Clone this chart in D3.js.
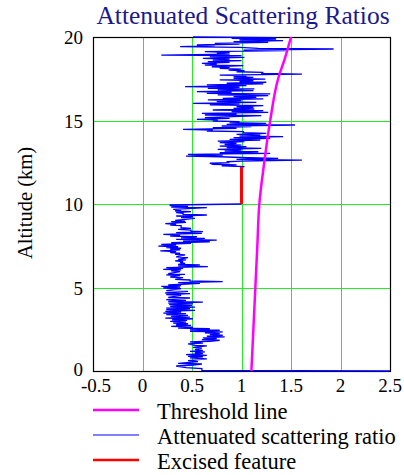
<!DOCTYPE html>
<html>
<head>
<meta charset="utf-8">
<script src="https://cdn.jsdelivr.net/npm/d3@7"></script>
<style>
  body { margin: 0; background: #fff; }
  svg { display: block; font-family: 'Liberation Serif', 'Times New Roman', serif; }
</style>
</head>
<body>
<svg id="chart" width="404" height="475"></svg>
<script>
'use strict';

//Tick values of both axes
const xTicks = [-0.5, 0, 0.5, 1, 1.5, 2, 2.5];
const yTicks = [0, 5, 10, 15, 20];

//Threshold line as [altitude (km), ratio]
const thresholdLine = [
  [0, 1.10], [2.5, 1.12], [5, 1.14], [7.5, 1.16], [10, 1.18],
  [12.5, 1.23], [15, 1.29], [17.5, 1.37], [18.75, 1.44], [20, 1.50]
];

//Excised feature as [altitude (km), ratio]
const excisedFeature = [[10.0, 1.0], [12.2, 1.0]];

//Attenuated scattering ratio below the feature, [altitude (km), ratio]
const profileLower = [
  [0.00, 2.50], [0.03, 0.60], [0.14, 0.60], [0.20, 0.44], [0.30, 0.34], [0.36, 0.51],
  [0.42, 0.60], [0.46, 0.36], [0.56, 0.56], [0.62, 0.46], [0.72, 0.65], [0.78, 0.48],
  [0.84, 0.61], [0.88, 0.46], [0.94, 0.65], [0.98, 0.44], [1.04, 0.61], [1.08, 0.53],
  [1.14, 0.63], [1.18, 0.48], [1.24, 0.61], [1.28, 0.53], [1.37, 0.60], [1.41, 0.51],
  [1.50, 0.65], [1.54, 0.53], [1.63, 0.46], [1.67, 0.61], [1.74, 0.48], [1.78, 0.68],
  [1.84, 0.78], [1.88, 0.60], [1.94, 0.75], [1.98, 0.61], [2.04, 0.83], [2.08, 0.65],
  [2.14, 0.81], [2.18, 0.68], [2.24, 0.78], [2.28, 0.63], [2.34, 0.81], [2.38, 0.48],
  [2.44, 0.78], [2.48, 0.48], [2.53, 0.68], [2.57, 0.36], [2.63, 0.51], [2.67, 0.29],
  [2.73, 0.49], [2.77, 0.34], [2.83, 0.46], [2.87, 0.31], [2.93, 0.44], [2.97, 0.28],
  [3.03, 0.45], [3.07, 0.30], [3.13, 0.51], [3.17, 0.23], [3.23, 0.48], [3.27, 0.29],
  [3.33, 0.46], [3.37, 0.24], [3.43, 0.44], [3.47, 0.21], [3.53, 0.39], [3.57, 0.23],
  [3.63, 0.53], [3.67, 0.24], [3.73, 0.48], [3.77, 0.24], [3.83, 0.53], [3.87, 0.28],
  [3.93, 0.50], [3.97, 0.27], [4.03, 0.51], [4.07, 0.26], [4.13, 0.61], [4.17, 0.26],
  [4.23, 0.44], [4.27, 0.24], [4.37, 0.48], [4.41, 0.26], [4.53, 0.39], [4.57, 0.24],
  [4.63, 0.48], [4.67, 0.23], [4.77, 0.46], [4.81, 0.24], [4.93, 0.39], [4.97, 0.21],
  [5.03, 0.38], [5.07, 0.19], [5.11, 0.39], [5.15, 0.26], [5.25, 0.58], [5.29, 0.36],
  [5.35, 0.81], [5.39, 0.48], [5.45, 0.48], [5.49, 0.33], [5.59, 0.41], [5.63, 0.28],
  [5.71, 0.38], [5.75, 0.24], [5.79, 0.43], [5.83, 0.26], [5.95, 0.38], [5.99, 0.29],
  [6.05, 0.39], [6.09, 0.21], [6.15, 0.41], [6.19, 0.24], [6.25, 0.66], [6.29, 0.36],
  [6.35, 0.58], [6.39, 0.36], [6.45, 0.43], [6.49, 0.38], [6.55, 0.41], [6.59, 0.33],
  [6.65, 0.44], [6.69, 0.36], [6.79, 0.46], [6.83, 0.34], [6.95, 0.43], [6.99, 0.33],
  [7.05, 0.38], [7.09, 0.28], [7.15, 0.34], [7.19, 0.18], [7.25, 0.38], [7.29, 0.28],
  [7.35, 0.39], [7.39, 0.24], [7.44, 0.36], [7.48, 0.16], [7.54, 0.34], [7.58, 0.19],
  [7.64, 0.49], [7.68, 0.29], [7.74, 0.68], [7.78, 0.41], [7.84, 0.75], [7.88, 0.34],
  [7.94, 0.63], [7.98, 0.39], [8.04, 0.55], [8.08, 0.28], [8.14, 0.38], [8.18, 0.21],
  [8.24, 0.60], [8.28, 0.34], [8.34, 0.61], [8.38, 0.49], [8.44, 0.49], [8.48, 0.36],
  [8.54, 0.49], [8.58, 0.39], [8.70, 0.39], [8.74, 0.28], [8.78, 0.34], [8.82, 0.23],
  [8.90, 0.44], [8.94, 0.29], [8.98, 0.43], [9.02, 0.33], [9.14, 0.53], [9.18, 0.39],
  [9.24, 0.51], [9.28, 0.34], [9.34, 0.65], [9.38, 0.41], [9.44, 0.41], [9.48, 0.34],
  [9.54, 0.49], [9.58, 0.33], [9.64, 0.39], [9.68, 0.31], [9.78, 0.65], [9.82, 0.29],
  [9.86, 0.46], [9.90, 0.28], [9.94, 0.28], [10.0, 1.00]
];

//Attenuated scattering ratio above the feature, [altitude (km), ratio]
const profileUpper = [
  [12.2, 1.00], [12.24, 1.03], [12.28, 0.80], [12.34, 0.95], [12.38, 0.71], [12.44, 0.68],
  [12.48, 0.88], [12.53, 0.85], [12.57, 1.00], [12.63, 1.61], [12.67, 0.95], [12.73, 1.37],
  [12.77, 1.07], [12.83, 0.78], [12.87, 0.44], [12.93, 0.81], [12.97, 0.46], [13.03, 1.29],
  [13.07, 0.78], [13.13, 1.17], [13.17, 0.83], [13.23, 1.00], [13.27, 0.76], [13.33, 1.20],
  [13.37, 0.85], [13.43, 1.05], [13.47, 0.78], [13.53, 1.00], [13.57, 0.83], [13.63, 0.95],
  [13.67, 0.78], [13.73, 1.03], [13.77, 0.76], [13.83, 1.19], [13.87, 0.88], [13.93, 1.29],
  [13.97, 0.92], [14.03, 1.42], [14.07, 0.98], [14.13, 1.19], [14.17, 0.95], [14.23, 1.25],
  [14.27, 1.02], [14.33, 1.02], [14.37, 0.65], [14.43, 0.71], [14.47, 0.41], [14.53, 0.95],
  [14.57, 0.71], [14.63, 1.10], [14.67, 0.80], [14.73, 1.54], [14.77, 0.85], [14.83, 1.25],
  [14.87, 0.88], [14.93, 0.98], [14.97, 0.71], [15.03, 0.76], [15.07, 0.55], [15.13, 0.88],
  [15.17, 0.63], [15.29, 1.20], [15.33, 0.63], [15.39, 0.95], [15.43, 0.60], [15.49, 1.27],
  [15.53, 0.90], [15.59, 1.22], [15.63, 0.71], [15.69, 1.13], [15.73, 0.92], [15.79, 1.12],
  [15.83, 0.95], [15.89, 1.22], [15.93, 0.68], [15.99, 0.98], [16.03, 0.51], [16.09, 1.15],
  [16.13, 0.75], [16.19, 1.00], [16.23, 0.66], [16.29, 1.22], [16.33, 0.81], [16.39, 1.15],
  [16.43, 0.92], [16.49, 1.27], [16.53, 0.76], [16.59, 1.29], [16.63, 0.65], [16.69, 0.90],
  [16.73, 0.55], [16.79, 1.12], [16.83, 0.76], [16.89, 1.13], [16.93, 0.66], [16.99, 0.98],
  [17.03, 0.43], [17.09, 1.05], [17.13, 0.65], [17.19, 1.22], [17.23, 0.85], [17.29, 1.25],
  [17.33, 0.98], [17.39, 1.12], [17.43, 0.78], [17.48, 1.24], [17.52, 0.92], [17.58, 1.12],
  [17.62, 0.92], [17.68, 1.05], [17.72, 0.78], [17.78, 1.61], [17.82, 1.20], [17.88, 1.22],
  [17.92, 0.95], [17.98, 1.03], [18.02, 0.87], [18.08, 1.00], [18.12, 0.78], [18.18, 0.88],
  [18.22, 0.70], [18.28, 1.02], [18.32, 0.63], [18.38, 0.75], [18.42, 0.60], [18.48, 0.88],
  [18.52, 0.66], [18.58, 1.00], [18.62, 0.71], [18.68, 0.88], [18.72, 0.61], [18.78, 1.03],
  [18.82, 0.68], [18.88, 1.00], [18.92, 0.19], [18.98, 0.88], [19.02, 0.75], [19.08, 0.88],
  [19.12, 0.63], [19.18, 1.45], [19.22, 1.02], [19.28, 1.93], [19.32, 1.17], [19.38, 0.98],
  [19.42, 0.38], [19.48, 0.73], [19.52, 0.55], [19.58, 0.98], [19.62, 0.73], [19.68, 1.27],
  [19.72, 0.92], [19.78, 1.42], [19.82, 0.98], [19.88, 1.35], [19.92, 0.90], [19.96, 1.35],
  [20.0, 0.51]
];

//Legend entries
const legendLabels = ['Threshold line', 'Attenuated scattering ratio', 'Excised feature'];
const legendColors = ['#ff00ff', '#0000ff', '#ff0000'];

const svg = d3.select('#chart');

const plot = { left: 93, right: 390, top: 37, bottom: 371 };

const x = d3.scaleLinear().domain([-0.5, 2.5]).range([plot.left, plot.right]);
const y = d3.scaleLinear().domain([0, 20]).range([plot.bottom, plot.top]);

//Title
svg
  .append('text')
  .attr('x', 243)
  .attr('y', 24)
  .attr('text-anchor', 'middle')
  .attr('fill', '#1a1a8c')
  .style('font-size', '25.5px')
  .text('Attenuated Scattering Ratios');

//Green grid lines
const grid = svg.append('g').attr('stroke', '#22ee22').attr('stroke-width', 1);
grid
  .selectAll('.gx')
  .data(xTicks.slice(1, -1))
  .enter()
  .append('line')
  .attr('x1', d => Math.round(x(d)) + 0.5)
  .attr('x2', d => Math.round(x(d)) + 0.5)
  .attr('y1', plot.top)
  .attr('y2', plot.bottom);
grid
  .selectAll('.gy')
  .data(yTicks.slice(1, -1))
  .enter()
  .append('line')
  .attr('x1', plot.left)
  .attr('x2', plot.right)
  .attr('y1', d => Math.round(y(d)) + 0.5)
  .attr('y2', d => Math.round(y(d)) + 0.5);

//Plot frame
svg
  .append('rect')
  .attr('x', plot.left + 0.5)
  .attr('y', plot.top + 0.5)
  .attr('width', plot.right - plot.left)
  .attr('height', plot.bottom - plot.top)
  .attr('fill', 'none')
  .attr('stroke', '#000')
  .attr('stroke-width', 1.2);

//Line generator, data is [altitude, ratio]
const line = d3
  .line()
  .x(d => x(d[1]))
  .y(d => y(d[0]));

svg
  .append('path')
  .datum(profileLower)
  .attr('d', line)
  .attr('fill', 'none')
  .attr('stroke', '#0000ff')
  .attr('stroke-width', 1.3);

svg
  .append('path')
  .datum(profileUpper)
  .attr('d', line)
  .attr('fill', 'none')
  .attr('stroke', '#0000ff')
  .attr('stroke-width', 1.3);

//Excised feature drawn crisp so it covers the grid line cleanly
svg
  .append('path')
  .datum(excisedFeature)
  .attr('d', line)
  .attr('fill', 'none')
  .attr('stroke', '#ff0000')
  .attr('stroke-width', 2.5)
  .attr('shape-rendering', 'crispEdges');

svg
  .append('path')
  .datum(thresholdLine)
  .attr('d', line.curve(d3.curveMonotoneY))
  .attr('fill', 'none')
  .attr('stroke', '#ff00ff')
  .attr('stroke-width', 2.5);

//Axis tick labels (no tick marks, only numbers)
svg
  .selectAll('.xlabel')
  .data(xTicks)
  .enter()
  .append('text')
  .attr('x', d => x(d) + (d < 0 ? 3 : 0))
  .attr('y', 392)
  .attr('text-anchor', 'middle')
  .style('font-size', '19px')
  .text(d => d);

svg
  .selectAll('.ylabel')
  .data(yTicks)
  .enter()
  .append('text')
  .attr('x', 83)
  .attr('y', d => y(d) + (d === 0 ? 5 : 7))
  .attr('text-anchor', 'end')
  .style('font-size', '19px')
  .text(d => d);

svg
  .append('text')
  .attr('transform', 'translate(32,203) rotate(-90)')
  .attr('text-anchor', 'middle')
  .style('font-size', '20.5px')
  .text('Altitude (km)');

//Legend
const legend = svg
  .selectAll('.legend')
  .data(legendLabels)
  .enter()
  .append('g')
  .attr('transform', (d, i) => 'translate(0,' + (410 + i * 25) + ')');

legend
  .append('line')
  .attr('x1', 93)
  .attr('x2', 139)
  .attr('stroke', (d, i) => legendColors[i])
  .attr('stroke-width', (d, i) => (i === 1 ? 1.2 : 2.5));

legend
  .append('text')
  .attr('x', 157)
  .attr('y', 9)
  .style('font-size', '22.5px')
  .text(d => d);
</script>
</body>
</html>
